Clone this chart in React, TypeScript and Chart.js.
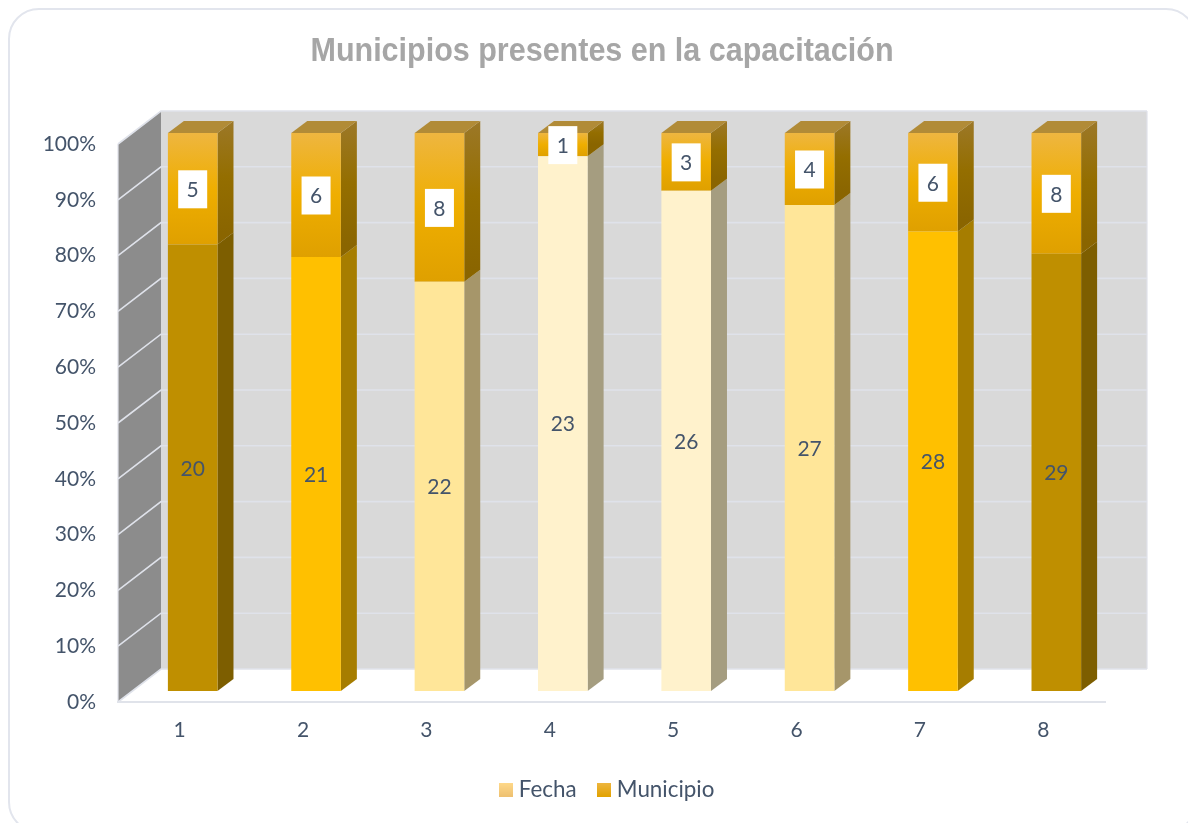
import React, { useEffect, useRef } from "react";
import { Chart, registerables } from "chart.js";

Chart.register(...registerables);

const categories = ["1", "2", "3", "4", "5", "6", "7", "8"];
const fecha = [20, 21, 22, 23, 26, 27, 28, 29];
const municipio = [5, 6, 8, 1, 3, 4, 6, 8];
const fechaColors = ["#BF8F00", "#FFC000", "#FFE699", "#FFF2CC", "#FFF2CC", "#FFE699", "#FFC000", "#BF8F00"];
const fechaSideColors = ["#7D5E00", "#A67D00", "#A6966A", "#A59D80", "#A59D80", "#A6966A", "#A67D00", "#7D5E00"];

const fechaPct = fecha.map((v, i) => (v / (v + municipio[i])) * 100);
const municipioPct = municipio.map((v, i) => (v / (v + fecha[i])) * 100);

const INK = "#44546A";
const GRID = "#DFE2EA";
const TEXT_FONT = "Lato";
const WALL_DX = 43;
const WALL_DY = 33;
const BAR_SHIFT_X = 13;
const BAR_SHIFT_Y = -11;
const BAR_DX = 16;
const BAR_DY = 12;
const TITLE_SQUEEZE = 0.897;
const LEGEND_SHIFT = 7;

function swatch(top: string, bottom: string) {
  const c = document.createElement("canvas");
  c.width = 14;
  c.height = 14;
  const g = c.getContext("2d")!;
  const grad = g.createLinearGradient(0, 0, 0, 14);
  grad.addColorStop(0, top);
  grad.addColorStop(1, bottom);
  g.fillStyle = grad;
  g.fillRect(0, 0, 14, 14);
  return c;
}

function vGrad(ctx: CanvasRenderingContext2D, y0: number, y1: number, stops: string[]) {
  const g = ctx.createLinearGradient(0, y0, 0, y1);
  stops.forEach((s, i) => g.addColorStop(i / (stops.length - 1), s));
  return g;
}

const FRONT_STOPS = ["#EEB640", "#EFAE00", "#DFA000"];
const SIDE_STOPS = ["#9C7828", "#946E00", "#8A6500"];

const scenePlugin = {
  id: "scene",
  beforeDraw(chart: any) {
    const { ctx, scales } = chart;
    // the reference title is condensed: squeeze the library's own title about its centre
    const block = chart.titleBlock;
    if (block && !block.__squeezed) {
      block.__squeezed = true;
      const orig = block.draw.bind(block);
      block.draw = () => {
        const cx = block.left + block.width / 2;
        ctx.save();
        ctx.translate(cx, 0);
        ctx.scale(TITLE_SQUEEZE, 1);
        ctx.translate(-cx, 0);
        orig();
        ctx.restore();
      };
    }
    const legend = chart.legend;
    if (legend && !legend.__shifted) {
      legend.__shifted = true;
      const orig = legend.draw.bind(legend);
      legend.draw = () => {
        ctx.save();
        ctx.translate(LEGEND_SHIFT, 0);
        orig();
        ctx.restore();
      };
    }
    const x = scales.x;
    const y = scales.y;
    const L = x.left;
    const R = x.right;
    const T = y.getPixelForValue(100);
    const B = y.getPixelForValue(0);
    ctx.save();
    ctx.fillStyle = "#FFFFFF";
    ctx.strokeStyle = "#E2E5ED";
    ctx.lineWidth = 2;
    ctx.beginPath();
    ctx.roundRect(9, 9, 1187, 823, 30);
    ctx.fill();
    ctx.stroke();

    // back wall
    const backR = R + WALL_DX - 1;
    ctx.fillStyle = "#D9D9D9";
    ctx.fillRect(L + WALL_DX, T - WALL_DY, backR - L - WALL_DX, B - T);
    // side wall
    ctx.fillStyle = "#8C8C8C";
    ctx.beginPath();
    ctx.moveTo(L, T);
    ctx.lineTo(L + WALL_DX, T - WALL_DY);
    ctx.lineTo(L + WALL_DX, B - WALL_DY);
    ctx.lineTo(L, B);
    ctx.closePath();
    ctx.fill();

    // grid lines through the value scale
    ctx.lineWidth = 1.6;
    y.ticks.forEach((t: any) => {
      const py = y.getPixelForValue(t.value);
      ctx.strokeStyle = GRID;
      ctx.beginPath();
      ctx.moveTo(L, py);
      ctx.lineTo(L + WALL_DX, py - WALL_DY);
      ctx.lineTo(backR, py - WALL_DY);
      ctx.stroke();
    });
    ctx.strokeStyle = GRID;
    ctx.lineWidth = 1.2;
    ctx.beginPath();
    ctx.moveTo(L, T);
    ctx.lineTo(L, B);
    ctx.moveTo(backR, T - WALL_DY);
    ctx.lineTo(backR, B - WALL_DY);
    ctx.stroke();
    ctx.restore();
  },
  beforeDatasetsDraw(chart: any) {
    const { ctx } = chart;
    ctx.save();
    ctx.translate(BAR_SHIFT_X, BAR_SHIFT_Y);
    const low = chart.getDatasetMeta(0).data;
    const high = chart.getDatasetMeta(1).data;
    low.forEach((el: any, i: number) => {
      const p = el.getProps(["x", "y", "base", "width"], true);
      const r = p.x + p.width / 2;
      ctx.fillStyle = fechaSideColors[i];
      ctx.beginPath();
      ctx.moveTo(r, p.y);
      ctx.lineTo(r + BAR_DX, p.y - BAR_DY);
      ctx.lineTo(r + BAR_DX, p.base - BAR_DY);
      ctx.lineTo(r, p.base);
      ctx.closePath();
      ctx.fill();
    });
    high.forEach((el: any) => {
      const p = el.getProps(["x", "y", "base", "width"], true);
      const l = p.x - p.width / 2;
      const r = p.x + p.width / 2;
      ctx.fillStyle = vGrad(ctx, p.y - BAR_DY, p.base - BAR_DY, SIDE_STOPS);
      ctx.beginPath();
      ctx.moveTo(r, p.y);
      ctx.lineTo(r + BAR_DX, p.y - BAR_DY);
      ctx.lineTo(r + BAR_DX, p.base - BAR_DY);
      ctx.lineTo(r, p.base);
      ctx.closePath();
      ctx.fill();
      ctx.fillStyle = "#B18B37";
      ctx.beginPath();
      ctx.moveTo(l, p.y);
      ctx.lineTo(l + BAR_DX, p.y - BAR_DY);
      ctx.lineTo(r + BAR_DX, p.y - BAR_DY);
      ctx.lineTo(r, p.y);
      ctx.closePath();
      ctx.fill();
    });
  },
  afterDatasetsDraw(chart: any) {
    const { ctx } = chart;
    ctx.font = `21px ${TEXT_FONT}`;
    ctx.textAlign = "center";
    ctx.textBaseline = "middle";
    chart.getDatasetMeta(0).data.forEach((el: any, i: number) => {
      const p = el.getProps(["x", "y", "base"], true);
      ctx.fillStyle = INK;
      ctx.fillText(String(fecha[i]), p.x, (p.y + p.base) / 2 + 1);
    });
    chart.getDatasetMeta(1).data.forEach((el: any, i: number) => {
      const p = el.getProps(["x", "y", "base"], true);
      const cy = (p.y + p.base) / 2;
      ctx.fillStyle = "#FFFFFF";
      ctx.fillRect(p.x - 14.5, cy - 18.5, 29, 38);
      ctx.fillStyle = INK;
      ctx.fillText(String(municipio[i]), p.x, cy + 1.5);
    });
    ctx.restore();
  },
};

export default function App() {
  const ref = useRef<HTMLCanvasElement>(null);
  useEffect(() => {
    const chart = new Chart(ref.current!, {
      type: "bar",
      data: {
        labels: categories,
        datasets: [
          {
            label: "Fecha",
            data: fechaPct,
            backgroundColor: fechaColors,
            borderWidth: 0,
          },
          {
            label: "Municipio",
            data: municipioPct,
            borderWidth: 0,
            backgroundColor: (c: any) => {
              const s = c.chart.scales.y;
              if (!s || c.dataIndex === undefined) return "#EFAE00";
              return vGrad(
                c.chart.ctx,
                s.getPixelForValue(100),
                s.getPixelForValue(fechaPct[c.dataIndex]),
                FRONT_STOPS
              );
            },
          },
        ],
      },
      options: {
        responsive: false,
        animation: false,
        layout: { padding: { left: 99, right: 83, top: 0, bottom: 12 } },
        datasets: { bar: { categoryPercentage: 1, barPercentage: 0.402 } },
        scales: {
          x: {
            stacked: true,
            grid: { display: false, drawTicks: false },
            border: { display: true, color: "#E0E3EA", width: 2 },
            ticks: { color: INK, font: { family: TEXT_FONT, size: 21 }, padding: 16, maxRotation: 0 },
            afterFit: (s: any) => {
              s.height = 51.6;
            },
          },
          y: {
            stacked: true,
            min: 0,
            max: 100,
            grid: { display: false, drawTicks: false },
            border: { display: false },
            ticks: {
              stepSize: 10,
              color: INK,
              padding: 22,
              labelOffset: 0,
              font: { family: TEXT_FONT, size: 21 },
              callback: (v: any) => v + "%",
            },
            afterFit: (s: any) => {
              // the axis box is narrow so the title centres as in the reference; labels run past it
              s.width = 19;
              s._computeLabelArea = () => undefined;
            },
          },
        },
        plugins: {
          tooltip: { enabled: false },
          title: {
            display: true,
            text: "Municipios presentes en la capacitación",
            color: "#A6A6A6",
            font: { family: "'Liberation Sans'", size: 34, weight: "bold" },
            padding: { top: 31, bottom: 72.2 },
          },
          legend: {
            position: "bottom",
            labels: {
              usePointStyle: true,
              pointStyleWidth: 4,
              padding: 25,
              color: INK,
              font: { family: TEXT_FONT, size: 22.4 },
              generateLabels: () => [
                { text: "Fecha", pointStyle: swatch("#FFD98A", "#EEC070"), fontColor: INK, datasetIndex: 0, lineWidth: 0, strokeStyle: "transparent", fillStyle: "#FFD98A" },
                { text: "Municipio", pointStyle: swatch("#EEB640", "#E2A200"), fontColor: INK, datasetIndex: 1, lineWidth: 0, strokeStyle: "transparent", fillStyle: "#EEB640" },
              ],
            },
          },
        },
      },
      plugins: [scenePlugin],
    } as any);
    return () => chart.destroy();
  }, []);
  return (
    <div style={{ position: "fixed", left: 0, top: 0, width: 1188, height: 823, overflow: "hidden", background: "#fff" }}>
      <canvas ref={ref} width={1188} height={823} style={{ display: "block" }} />
    </div>
  );
}
